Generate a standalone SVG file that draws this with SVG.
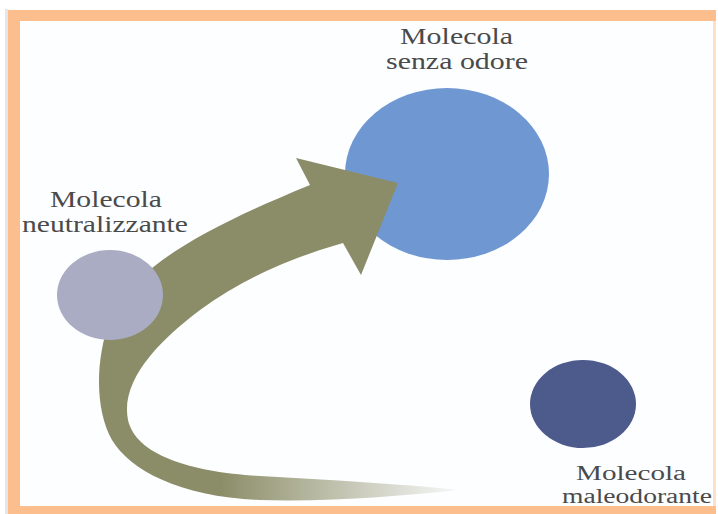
<svg xmlns="http://www.w3.org/2000/svg" width="718" height="514" viewBox="0 0 718 514">
<style>
.lbl{font-family:"Liberation Serif","Times New Roman",serif;font-size:23px;fill:#4a4a4a;text-anchor:start}
.sm{font-size:20px}
</style>
<defs>
<linearGradient id="fadeGrad" gradientUnits="userSpaceOnUse" x1="220" y1="0" x2="470" y2="0">
<stop offset="0" stop-color="#fff"/>
<stop offset="1" stop-color="#000"/>
</linearGradient>
<mask id="fadeMask" maskUnits="userSpaceOnUse" x="0" y="0" width="718" height="514">
<rect x="0" y="0" width="718" height="430" fill="#fff"/>
<rect x="0" y="430" width="718" height="84" fill="url(#fadeGrad)"/>
</mask>
<filter id="soft" x="-5%" y="-5%" width="110%" height="110%"><feGaussianBlur stdDeviation="0.6"/></filter>
</defs>
<rect x="0" y="0" width="718" height="514" fill="#ffffff"/>
<g id="frame">
<rect x="5" y="9" width="3" height="505" fill="#e6e6ea"/>
<rect x="8" y="10" width="708" height="504" fill="#fbbe8c"/>
<rect x="20" y="21" width="693" height="485" fill="#fdfeff"/>
<rect x="713" y="21" width="3" height="485" fill="#fde0c8"/>
</g>
<g id="node-senza-odore">
<ellipse cx="447" cy="174" rx="102" ry="86" fill="#6f98d3"/>
<text class="lbl" x="400" y="44" textLength="113" lengthAdjust="spacingAndGlyphs">Molecola</text>
<text class="lbl" x="386" y="69" textLength="142" lengthAdjust="spacingAndGlyphs">senza odore</text>
</g>
<g id="connectors">
<path id="arrow" mask="url(#fadeMask)" fill="#8b8d68" filter="url(#soft)" d="M310,185 L296,158 L398,183 L361,275 L343,243 C290,258 240,280 200,310 C160,340 120,380 128,420 C136,455 190,472 260,476 C330,480 400,484 460,490 C400,496 330,502 260,500 C180,497 130,470 112,440 C95,410 95,360 110,320 C130,270 200,230 310,185 Z"/>
</g>
<g id="node-neutralizzante">
<ellipse cx="110" cy="295" rx="53" ry="45" fill="#a9acc3"/>
<text class="lbl" x="50" y="207" textLength="112" lengthAdjust="spacingAndGlyphs">Molecola</text>
<text class="lbl" x="22" y="232" textLength="166" lengthAdjust="spacingAndGlyphs">neutralizzante</text>
</g>
<g id="node-maleodorante">
<ellipse cx="583" cy="404" rx="53" ry="44" fill="#4c5a8c"/>
<text class="lbl sm" x="576" y="480" textLength="110" lengthAdjust="spacingAndGlyphs">Molecola</text>
<text class="lbl sm" x="562" y="503" textLength="150" lengthAdjust="spacingAndGlyphs">maleodorante</text>
</g>
</svg>
